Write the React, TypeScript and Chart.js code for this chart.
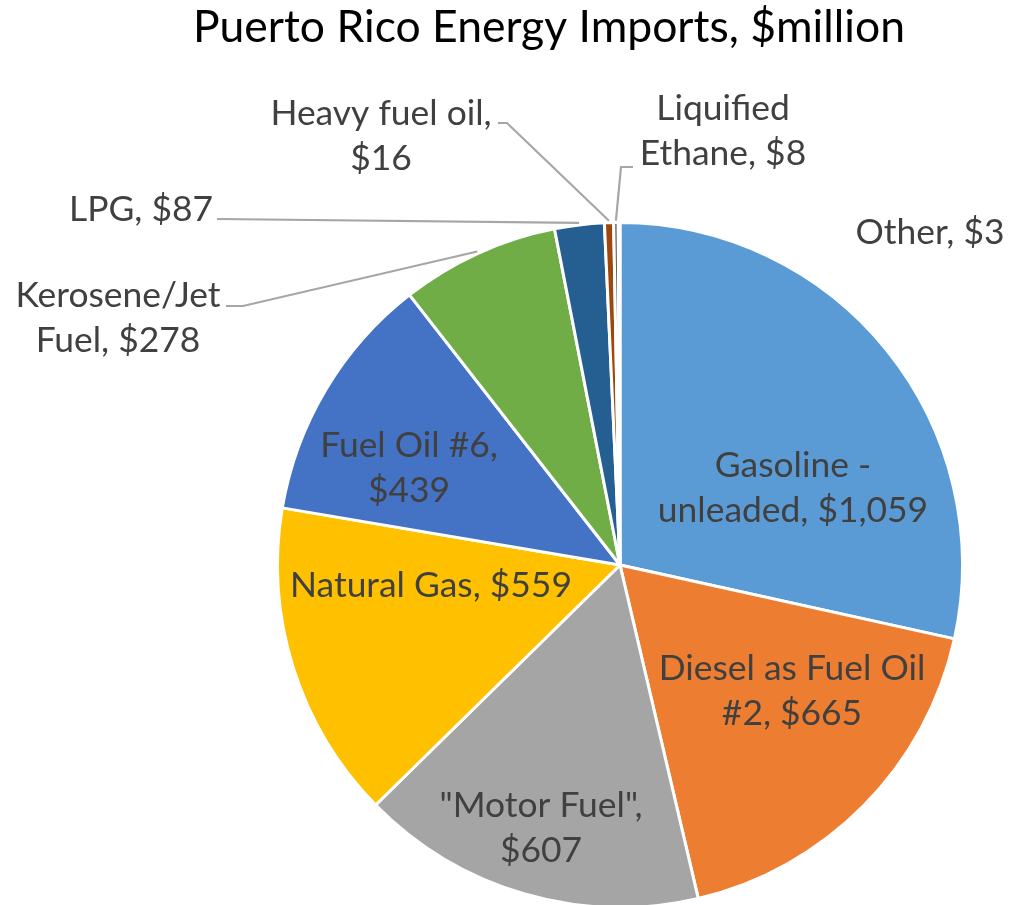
import React, { useEffect, useRef } from 'react';
import { Chart, registerables } from 'chart.js';

Chart.register(...registerables);

// ---------- data ----------
const chartTitle = 'Puerto Rico Energy Imports, $million';
const categories = [
  'Gasoline - unleaded',
  'Diesel as Fuel Oil #2',
  '"Motor Fuel"',
  'Natural Gas',
  'Fuel Oil #6',
  'Kerosene/Jet Fuel',
  'LPG',
  'Heavy fuel oil',
  'Liquified Ethane',
  'Other',
];
const values = [1059, 665, 607, 559, 439, 278, 87, 16, 8, 3];
// number of words on the first line of each data label (0 = single line)
const labelBreaks = [2, 4, 2, 0, 3, 1, 0, 3, 1, 0];

// ---------- styles ----------
const sliceColors = [
  '#5B9BD5', '#ED7D31', '#A5A5A5', '#FFC000', '#4472C4',
  '#70AD47', '#255E91', '#9E480E', '#636363', '#997300',
];
const FONT = 'Lato, "Open Sans", sans-serif';
const LABEL_COLOR = '#404040';
const LEADER_COLOR = '#A6A6A6';
const REF_R = 342.5; // radius the layout offsets below are expressed at
const LINE_GAP = 45;

// label layout: offsets from the pie centre (first-line baseline), leader elbows
const labelLayout: { dx: number; dy: number; leader?: number[][] }[] = [
  { dx: 173, dy: -88 },
  { dx: 172, dy: 115 },
  { dx: -79, dy: 252 },
  { dx: -189, dy: 32 },
  { dx: -211, dy: -108 },
  { dx: -502, dy: -258, leader: [[-394, -259], [-377, -259]] },
  { dx: -479, dy: -344, leader: [[-403, -346]] },
  { dx: -239, dy: -440, leader: [[-122, -442], [-113, -442]] },
  { dx: 103, dy: -445, leader: [[13, -398], [1, -398]] },
  { dx: 310, dy: -321 },
];

function labelLines(i: number): string[] {
  const text = `${categories[i]}, $${values[i].toLocaleString('en-US')}`;
  const words = text.split(' ');
  const b = labelBreaks[i];
  if (!b) return [text];
  return [words.slice(0, b).join(' '), words.slice(b).join(' ')];
}

const labelPlugin = {
  id: 'pieLabels',
  afterDatasetsDraw(chart: any) {
    const ctx: CanvasRenderingContext2D = chart.ctx;
    const meta = chart.getDatasetMeta(0);
    ctx.save();
    ctx.font = `40px ${FONT}`;
    const fs = (40 * 282) / ctx.measureText('Natural Gas, $559').width;
    ctx.font = `${fs}px ${FONT}`;
    ctx.fillStyle = LABEL_COLOR;
    ctx.textAlign = 'center';
    ctx.textBaseline = 'alphabetic';
    ctx.strokeStyle = LEADER_COLOR;
    ctx.lineWidth = 2.2;
    meta.data.forEach((arc: any, i: number) => {
      const p = arc.getProps(['x', 'y', 'startAngle', 'endAngle', 'outerRadius'], true);
      const s = p.outerRadius / REF_R;
      const lay = labelLayout[i];
      const lines = labelLines(i);
      const tx = p.x + lay.dx * s;
      const ty = p.y + lay.dy * s;
      lines.forEach((ln, k) => ctx.fillText(ln, tx, ty + k * LINE_GAP * s));
      if (lay.leader) {
        const mid = (p.startAngle + p.endAngle) / 2;
        const ex = p.x + Math.cos(mid) * (p.outerRadius + 2);
        const ey = p.y + Math.sin(mid) * (p.outerRadius + 2);
        ctx.beginPath();
        lay.leader.forEach((pt, k) => {
          const lx = p.x + pt[0] * s;
          const ly = p.y + pt[1] * s;
          if (k === 0) ctx.moveTo(lx, ly);
          else ctx.lineTo(lx, ly);
        });
        ctx.lineTo(ex, ey);
        ctx.stroke();
      }
    });
    // title
    ctx.font = `40px ${FONT}`;
    const tfs = (40 * 712) / ctx.measureText(chartTitle).width;
    ctx.font = `${tfs}px ${FONT}`;
    ctx.fillStyle = '#000000';
    ctx.fillText(chartTitle, 549, 42);
    ctx.restore();
  },
};

export default function App() {
  const ref = useRef<HTMLCanvasElement | null>(null);
  useEffect(() => {
    if (!ref.current) return;
    const chart = new Chart(ref.current, {
      type: 'pie',
      data: {
        labels: categories,
        datasets: [
          {
            data: values,
            backgroundColor: sliceColors,
            borderColor: '#FFFFFF',
            borderWidth: 3,
          },
        ],
      },
      options: {
        responsive: false,
        animation: false,
        devicePixelRatio: 1,
        layout: { padding: { left: 276, right: 46, top: 221, bottom: 11 } },
        plugins: {
          legend: { display: false },
          tooltip: { enabled: false },
          title: { display: false },
        },
      },
      plugins: [labelPlugin],
    });
    return () => chart.destroy();
  }, []);
  return (
    <div style={{ position: 'fixed', left: 0, top: 0, width: 1010, height: 920, background: '#fff' }}>
      <canvas ref={ref} width={1010} height={920} style={{ display: 'block' }} />
    </div>
  );
}
